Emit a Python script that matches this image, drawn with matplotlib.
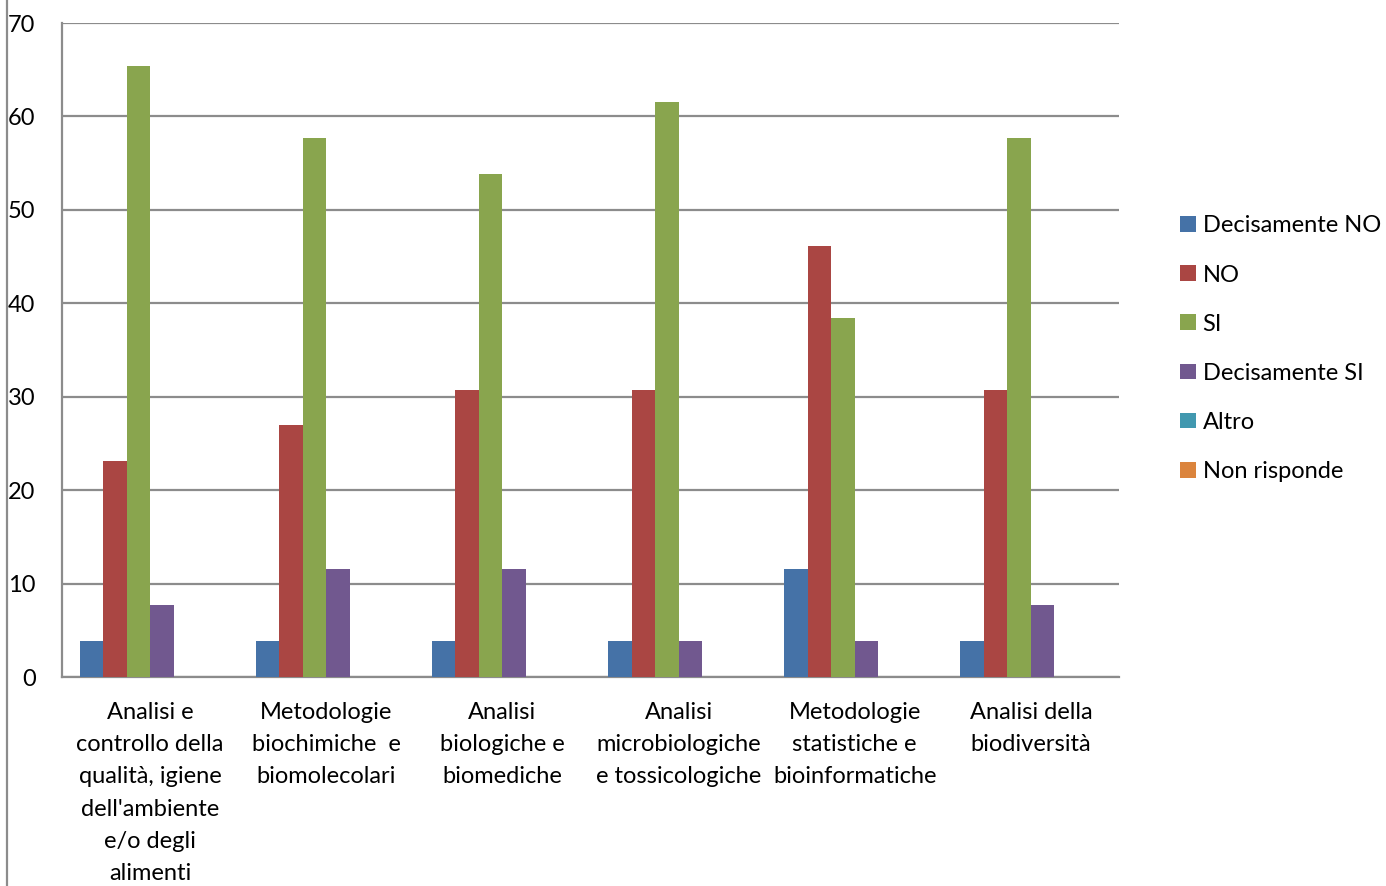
import matplotlib.pyplot as plt
import matplotlib.lines as mlines
import numpy as np

# categorie (asse x)
categorie = [
    "Analisi e\ncontrollo della\nqualità, igiene\ndell'ambiente\ne/o degli\nalimenti",
    "Metodologie\nbiochimiche  e\nbiomolecolari",
    "Analisi\nbiologiche e\nbiomediche",
    "Analisi\nmicrobiologiche\ne tossicologiche",
    "Metodologie\nstatistiche e\nbioinformatiche",
    "Analisi della\nbiodiversità",
]

# serie (percentuali)
decisamente_no = [3.85, 3.85, 3.85, 3.85, 11.54, 3.85]
no = [23.08, 26.92, 30.77, 30.77, 46.15, 30.77]
si = [65.38, 57.69, 53.85, 61.54, 38.46, 57.69]
decisamente_si = [7.69, 11.54, 11.54, 3.85, 3.85, 7.69]
altro = [0, 0, 0, 0, 0, 0]
non_risponde = [0, 0, 0, 0, 0, 0]

serie = [decisamente_no, no, si, decisamente_si, altro, non_risponde]
nomi = ['Decisamente NO', 'NO', 'SI', 'Decisamente SI', 'Altro', 'Non risponde']
colori = ['#4572A7', '#AA4643', '#89A54E', '#71588F', '#4198AF', '#DB843D']

plt.rcParams['font.family'] = ['Lato', 'DejaVu Sans']

fig = plt.figure(figsize=(13.86, 8.86), dpi=100)
ax = fig.add_axes([62 / 1386, 1 - 677 / 886, (1119 - 62) / 1386, (677 - 23) / 886])

n = len(serie)
w = 1 / (n + 1.5)
x = np.arange(len(categorie))
for i in range(n):
    ax.bar(x - 0.5 + 0.75 * w + i * w, serie[i], width=w, align='edge',
           color=colori[i], label=nomi[i], zorder=3)

ax.set_xlim(-0.5, len(categorie) - 0.5)
ax.set_ylim(0, 70)
ax.set_yticks(range(0, 71, 10))
ax.yaxis.grid(True, color='#8c8c8c', linewidth=1.6, zorder=0)
ax.set_xticks(x)
ax.set_xticklabels(categorie, fontsize=17, linespacing=1.66)
ax.tick_params(axis='x', length=0, pad=18)
ax.tick_params(axis='y', length=0, pad=19, labelsize=17)
for s in ['top', 'right']:
    ax.spines[s].set_visible(False)
for s in ['left', 'bottom']:
    ax.spines[s].set_color('#8c8c8c')
    ax.spines[s].set_linewidth(1.6)

ax.legend(loc='center left', bbox_to_anchor=(1.049, 0.502), frameon=False,
          fontsize=17, handlelength=0.65, handleheight=0.65, handletextpad=0.3,
          labelspacing=1.19, borderaxespad=0)

# bordo sinistro del grafico
fig.add_artist(mlines.Line2D([7 / 1386, 7 / 1386], [0, 1], color='#8c8c8c', linewidth=1.6))

fig.savefig('out.png', dpi=100)
